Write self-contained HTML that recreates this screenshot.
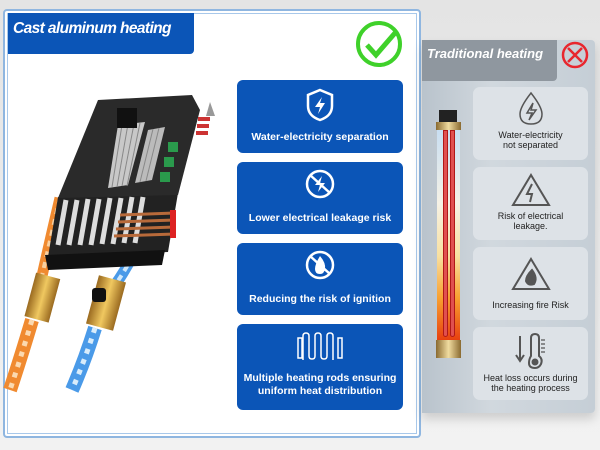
<!DOCTYPE html>
<html><head><style>
body{margin:0;width:600px;height:450px;overflow:hidden;background:linear-gradient(#e4e4e4,#f2f2f2);font-family:"Liberation Sans",sans-serif;position:relative}
.a{position:absolute}
.lp{left:3px;top:9px;width:414px;height:425px;background:#fff;border:2px solid #8fb6e0;border-radius:4px;box-shadow:inset 0 0 0 2px #fff,inset 0 0 0 3px #a8c8ea}
.hd{left:8px;top:13px;width:186px;height:41px;background:#0b55b7;border-radius:0 0 4px 0;color:#fff;font-weight:bold;font-style:italic;font-size:15.5px;line-height:32px;padding-left:5px;box-sizing:border-box;letter-spacing:-0.6px}
.card{left:237px;width:166px;background:#0b55b7;border-radius:6px;color:#fff;font-size:10.5px;text-align:center;font-weight:bold}
.rp{left:422px;top:40px;width:173px;height:373px;background:linear-gradient(90deg,#b9c3cc,#d1d8de 40%,#c5ced6);border-radius:0 4px 4px 0;box-shadow:0 6px 10px rgba(0,0,0,.15)}
.rh{left:422px;top:40px;width:135px;height:41px;background:#8f979f;border-radius:0 0 4px 0;color:#fff;font-weight:bold;font-style:italic;font-size:13px;line-height:28px;padding-left:5px;box-sizing:border-box}
.rc{left:473px;width:115px;background:#dde2e7;border-radius:7px;color:#222;font-size:9px;text-align:center;line-height:10.5px}
</style></head><body>
<div class="a lp"></div>
<div class="a hd">Cast aluminum heating</div>
<svg class="a" style="left:355px;top:18px" width="50" height="52"><circle cx="24" cy="26" r="21" fill="none" stroke="#3fd12a" stroke-width="4"/><path d="M12 27 L21 37 L40 15" fill="none" stroke="#3fd12a" stroke-width="5"/></svg>
<svg class="a" style="left:0;top:0" width="236" height="440">
<defs><linearGradient id="br" x1="0" x2="1"><stop offset="0" stop-color="#9a6a20"/><stop offset=".5" stop-color="#f0c860"/><stop offset="1" stop-color="#9a6a20"/></linearGradient></defs>
<path d="M60 198 Q50 240 40 285" stroke="#f08a30" stroke-width="11" fill="none"/>
<path d="M60 198 Q50 240 40 285" stroke="#f8d0a0" stroke-width="4" fill="none" stroke-dasharray="6 5"/>
<path d="M157 195 Q140 250 115 285" stroke="#4a9ae8" stroke-width="11" fill="none"/>
<path d="M157 195 Q140 250 115 285" stroke="#d0e8fb" stroke-width="4" fill="none" stroke-dasharray="6 5"/>
<polygon points="58,197 178,193 168,252 48,257" fill="#222"/>
<g stroke="#ddd" stroke-width="5"><line x1="66" y1="200" x2="58" y2="245"/><line x1="77" y1="200" x2="69" y2="245"/><line x1="88" y1="199" x2="80" y2="245"/><line x1="99" y1="199" x2="91" y2="245"/><line x1="110" y1="198" x2="102" y2="244"/><line x1="121" y1="198" x2="113" y2="244"/><line x1="132" y1="197" x2="124" y2="243"/><line x1="143" y1="197" x2="135" y2="243"/></g>
<g stroke="#b86a3a" stroke-width="3"><line x1="120" y1="215" x2="175" y2="213"/><line x1="118" y1="222" x2="175" y2="220"/><line x1="116" y1="229" x2="175" y2="227"/><line x1="114" y1="236" x2="175" y2="234"/></g>
<g fill="#d22"><rect x="170" y="210" width="6" height="28"/></g>
<polygon points="45,255 165,250 162,265 48,270" fill="#111"/>
<polygon points="98,100 192,95 200,110 178,195 58,198" fill="#2a2a2a"/>
<polygon points="118,125 145,122 128,185 108,188" fill="#c8c8c8"/>
<polygon points="148,130 165,127 152,180 135,183" fill="#bbb"/>
<g stroke="#888" stroke-width="1"><line x1="122" y1="125" x2="112" y2="187"/><line x1="128" y1="124" x2="117" y2="187"/><line x1="134" y1="124" x2="122" y2="186"/><line x1="140" y1="123" x2="127" y2="186"/><line x1="153" y1="129" x2="140" y2="182"/><line x1="159" y1="128" x2="146" y2="181"/></g>
<rect x="117" y="108" width="20" height="20" fill="#111"/>
<g fill="#2a9a4c"><rect x="168" y="142" width="10" height="10"/><rect x="164" y="157" width="10" height="10"/><rect x="160" y="172" width="10" height="10"/></g>
<g fill="#c33"><rect x="198" y="117" width="12" height="4"/><rect x="197" y="124" width="12" height="4"/><rect x="196" y="131" width="12" height="4"/></g>
<polygon points="210,102 215,116 206,116" fill="#999"/>
<rect x="30" y="275" width="25" height="45" fill="url(#br)" transform="rotate(15 42 297)"/>
<path d="M32 320 Q20 360 10 390" stroke="#f08a30" stroke-width="14" fill="none"/>
<path d="M32 320 Q20 360 10 390" stroke="#fbd9b0" stroke-width="5" fill="none" stroke-dasharray="5 6"/>
<rect x="92" y="278" width="28" height="50" fill="url(#br)" transform="rotate(15 106 303)"/>
<rect x="92" y="288" width="14" height="14" rx="3" fill="#111"/>
<path d="M95 328 Q85 360 72 390" stroke="#4a9ae8" stroke-width="14" fill="none"/>
<path d="M95 328 Q85 360 72 390" stroke="#d8ecfb" stroke-width="5" fill="none" stroke-dasharray="5 6"/>
</svg>
<div class="a card" style="top:80px;height:73px"><svg width="30" height="34" style="margin-top:8px"><path d="M15 2 L27 7 V18 Q27 28 15 32 Q3 28 3 18 V7Z" fill="none" stroke="#fff" stroke-width="2.5"/><path d="M17 9 L10 19 H15 L13 26 L20 15 H15Z" fill="#fff"/></svg><div style="margin-top:6px">Water-electricity separation</div></div>
<div class="a card" style="top:162px;height:72px"><svg width="32" height="32" style="margin-top:6px"><circle cx="16" cy="16" r="13" fill="none" stroke="#fff" stroke-width="2.5"/><line x1="6" y1="7" x2="26" y2="25" stroke="#fff" stroke-width="2.5"/><path d="M18 8 L11 17 H16 L14 24 L21 15 H16Z" fill="#fff"/></svg><div style="margin-top:9px">Lower electrical leakage risk</div></div>
<div class="a card" style="top:243px;height:72px"><svg width="32" height="32" style="margin-top:6px"><circle cx="16" cy="16" r="13" fill="none" stroke="#fff" stroke-width="2.5"/><path d="M16 7 Q22 14 21 20 Q20 25 16 25 Q11 25 11 20 Q11 15 16 7Z" fill="#fff"/><line x1="6" y1="7" x2="26" y2="25" stroke="#fff" stroke-width="2.5"/></svg><div style="margin-top:9px">Reducing the risk of ignition</div></div>
<div class="a card" style="top:324px;height:86px"><svg width="50" height="32" style="margin-top:6px" fill="none" stroke="#fff" stroke-width="1.5"><path d="M8 30 V6 Q8 3 11 3 Q14 3 14 6 V26 Q14 29 17 29 Q20 29 20 26 V6 Q20 3 23 3 Q26 3 26 6 V26 Q26 29 29 29 Q32 29 32 26 V6 Q32 3 35 3 Q38 3 38 6 V30"/><rect x="3" y="8" width="4" height="20"/><rect x="43" y="8" width="4" height="20"/></svg><div style="margin-top:7px;line-height:13px">Multiple heating rods ensuring<br>uniform heat distribution</div></div>
<div class="a rp"></div>
<div class="a rh">Traditional heating</div>
<svg class="a" style="left:560px;top:40px" width="32" height="30"><circle cx="15" cy="15" r="12" fill="none" stroke="#e8262e" stroke-width="2.5"/><path d="M8 8 L22 22 M22 8 L8 22" stroke="#e8262e" stroke-width="2.5"/></svg>
<div class="a" style="left:439px;top:110px;width:18px;height:13px;background:#222"></div>
<div class="a" style="left:436px;top:122px;width:25px;height:8px;background:linear-gradient(90deg,#8a6a30,#f0dca0,#8a6a30)"></div>
<div class="a" style="left:437px;top:130px;width:23px;height:210px;background:linear-gradient(#c8def2,#f6f2e6 35%,#f8e0a0 60%,#f8a030 80%,#e84010)"></div>
<div class="a" style="left:443px;top:130px;width:3px;height:205px;border:1.5px solid #b01818;border-radius:0 0 4px 4px;background:#e05050"></div>
<div class="a" style="left:450px;top:130px;width:3px;height:205px;border:1.5px solid #b01818;border-radius:0 0 4px 4px;background:#e05050"></div>
<div class="a" style="left:436px;top:340px;width:25px;height:18px;background:linear-gradient(90deg,#8a6a30,#f0dca0,#8a6a30)"></div>
<div class="a rc" style="top:87px;height:73px"><svg width="30" height="36" style="margin-top:4px" fill="none" stroke="#555" stroke-width="1.5"><path d="M15 2 Q26 16 26 23 Q26 33 15 33 Q4 33 4 23 Q4 16 15 2Z"/><path d="M17 12 L11 22 H16 L13 29 L20 19 H15Z"/></svg><div>Water-electricity<br>not separated</div></div>
<div class="a rc" style="top:167px;height:73px"><svg width="42" height="36" style="margin-top:5px" fill="none" stroke="#555" stroke-width="2"><path d="M21 3 L39 33 H3Z"/><path d="M22 12 L17 22 H22 L20 30" /></svg><div>Risk of electrical<br>leakage.</div></div>
<div class="a rc" style="top:247px;height:73px"><svg width="42" height="36" style="margin-top:9px" fill="none" stroke="#555" stroke-width="2"><path d="M21 3 L39 33 H3Z"/><path d="M22 14 Q28 22 24 28 Q18 30 16 25 Q16 20 22 14Z" fill="#555"/></svg><div style="margin-top:5px">Increasing fire Risk</div></div>
<div class="a rc" style="top:327px;height:73px"><svg width="40" height="38" style="margin-top:5px" fill="none" stroke="#555" stroke-width="2"><path d="M9 4 V28 M5 23 L9 29 L13 23"/><path d="M20 6 Q20 2 24 2 Q28 2 28 6 V24 Q32 27 30 32 Q28 36 24 36 Q18 36 18 31 Q18 27 20 24Z"/><circle cx="24" cy="30" r="2.5" fill="#555"/><path d="M30 8 H34 M30 12 H34 M30 16 H34 M30 20 H34" stroke-width="1.3"/></svg><div>Heat loss occurs during<br>the heating process</div></div>
</body></html>
